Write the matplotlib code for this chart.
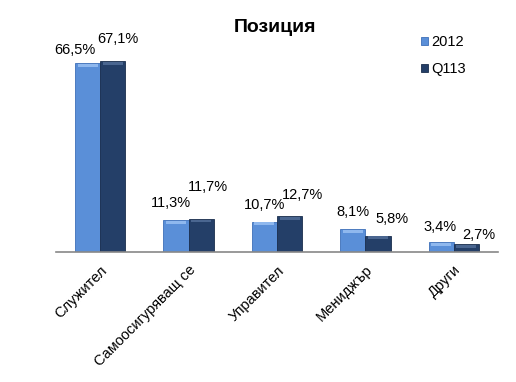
import matplotlib.pyplot as plt
import numpy as np

plt.rcParams['font.family'] = ['Liberation Sans', 'DejaVu Sans']

categories = ['Служител', 'Самоосигуряващ се', 'Управител', 'Мениджър', 'Други']
v2012 = [66.5, 11.3, 10.7, 8.1, 3.4]
vq113 = [67.1, 11.7, 12.7, 5.8, 2.7]
labels2012 = ['66,5%', '11,3%', '10,7%', '8,1%', '3,4%']
labelsq113 = ['67,1%', '11,7%', '12,7%', '5,8%', '2,7%']

# label offsets from bar top (points), Excel put them a bit irregularly
off2012 = [(-9, 9), (-4, 12), (0, 12), (0, 12), (-1, 11)]
offq113 = [(4, 16), (5, 23), (9, 15), (10, 12), (9, 7)]

c_light = '#5a8fd8'
c_dark = '#243f68'

fig = plt.figure(figsize=(5.16, 3.82), dpi=100)
ax = fig.add_axes([56/516, 1-252/382, 442/516, 189/382*72/66.5])

x = np.arange(len(categories))
w = 0.285
b1 = ax.bar(x - w/2, v2012, w, color=c_light, edgecolor='#3d6fb8', linewidth=0.6, label='2012')
b2 = ax.bar(x + w/2, vq113, w, color=c_dark, edgecolor='#1a2e4d', linewidth=0.6, label='Q113')

# little bevel highlight on top of each bar
for bars, hl in ((b1, '#8fb8ee'), (b2, '#4a6690')):
    for r in bars:
        ax.bar(r.get_x() + r.get_width()/2, 1.0, r.get_width()*0.8,
               bottom=r.get_height()-1.3, color=hl, linewidth=0)

for i in range(len(categories)):
    ax.annotate(labels2012[i], (x[i] - w/2, v2012[i]), xytext=off2012[i],
                textcoords='offset points', ha='center', va='center', fontsize=10.5)
    ax.annotate(labelsq113[i], (x[i] + w/2, vq113[i]), xytext=offq113[i],
                textcoords='offset points', ha='center', va='center', fontsize=10.5)

ax.set_xlim(-0.5, len(categories) - 0.5)
ax.set_ylim(0, 72)
ax.set_yticks([])
ax.set_xticks(x)
ax.set_xticklabels(categories, rotation=45, ha='right', rotation_mode='anchor', fontsize=10.5)
ax.tick_params(axis='x', length=0, pad=8)
for s in ['top', 'right', 'left']:
    ax.spines[s].set_visible(False)
ax.spines['bottom'].set_color('#888888')
ax.spines['bottom'].set_linewidth(1.2)

fig.text(275/516, 1-27/382, 'Позиция', ha='center', va='center', fontsize=14, fontweight='bold')

ax.legend(handles=[b1, b2], loc='upper left', bbox_to_anchor=(408/516, 1-22/382),
          bbox_transform=fig.transFigure, frameon=False, fontsize=10.5,
          handlelength=0.5, handleheight=0.5, handletextpad=0.2, labelspacing=0.9)

fig.savefig('out.png', dpi=100)
